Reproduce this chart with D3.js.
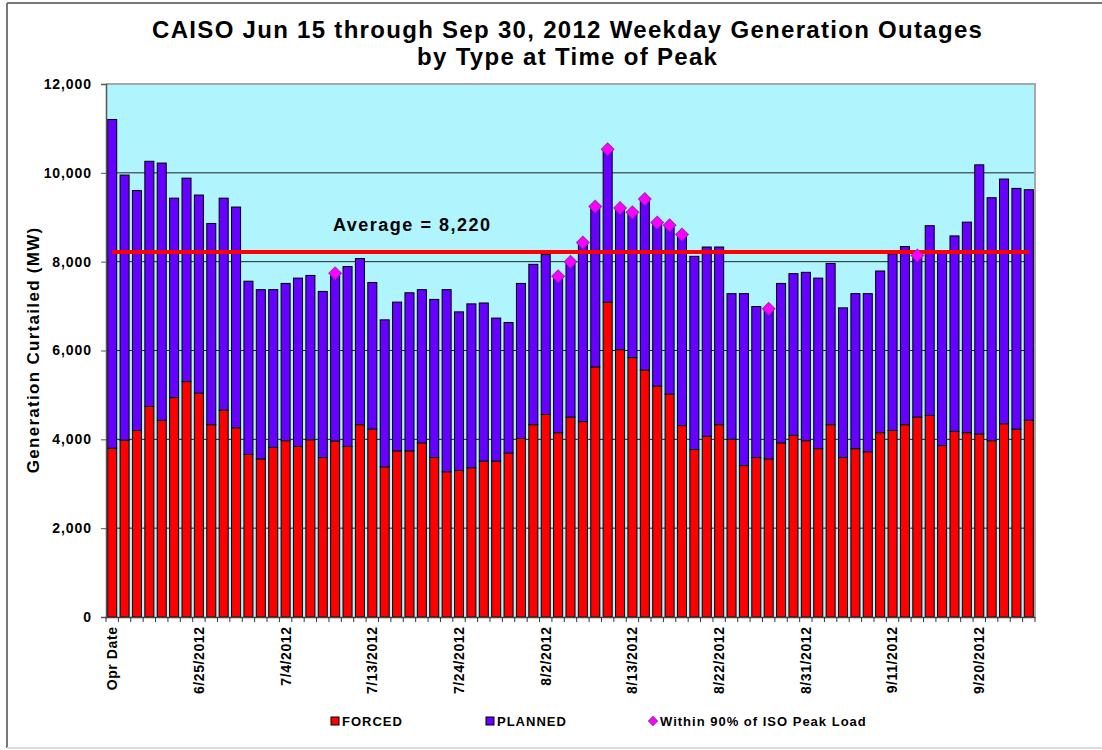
<!DOCTYPE html>
<html>
<head>
<meta charset="utf-8">
<script src="https://cdn.jsdelivr.net/npm/d3@7"></script>
<style>
    body { margin: 0; background: #fff; }
    text { font-family: Arial, "Liberation Sans", sans-serif; font-weight: bold; fill: #000; }
</style>
</head>
<body>
<script>
// categories as in the sheet: header row first, then weekdays
const categories = [
    "Opr Date",
    "6/15/2012", "6/18/2012", "6/19/2012", "6/20/2012", "6/21/2012", "6/22/2012",
    "6/25/2012", "6/26/2012", "6/27/2012", "6/28/2012", "6/29/2012",
    "7/2/2012", "7/3/2012", "7/4/2012", "7/5/2012", "7/6/2012",
    "7/9/2012", "7/10/2012", "7/11/2012", "7/12/2012", "7/13/2012",
    "7/16/2012", "7/17/2012", "7/18/2012", "7/19/2012", "7/20/2012",
    "7/23/2012", "7/24/2012", "7/25/2012", "7/26/2012", "7/27/2012",
    "7/30/2012", "7/31/2012", "8/1/2012", "8/2/2012", "8/3/2012",
    "8/6/2012", "8/7/2012", "8/8/2012", "8/9/2012", "8/10/2012",
    "8/13/2012", "8/14/2012", "8/15/2012", "8/16/2012", "8/17/2012",
    "8/20/2012", "8/21/2012", "8/22/2012", "8/23/2012", "8/24/2012",
    "8/27/2012", "8/28/2012", "8/29/2012", "8/30/2012", "8/31/2012",
    "9/3/2012", "9/4/2012", "9/5/2012", "9/6/2012", "9/7/2012",
    "9/10/2012", "9/11/2012", "9/12/2012", "9/13/2012", "9/14/2012",
    "9/17/2012", "9/18/2012", "9/19/2012", "9/20/2012", "9/21/2012",
    "9/24/2012", "9/25/2012", "9/26/2012"
];

// only every 7th category gets a label on the axis
const tickLabels = categories.filter((d, i) => i % 7 === 0);

const forced = [
    3800, 3980, 4200, 4740, 4430, 4940, 5300, 5040, 4330, 4660,
    4260, 3660, 3560, 3820, 3970, 3840, 3990, 3590, 3960, 3840,
    4330, 4230, 3380, 3740, 3740, 3920, 3590, 3270, 3300, 3360,
    3510, 3510, 3690, 4020, 4330, 4560, 4150, 4500, 4400, 5630,
    7090, 6020, 5840, 5560, 5200, 5020, 4310, 3770, 4070, 4330,
    4000, 3410, 3590, 3560, 3920, 4090, 3970, 3790, 4330, 3590,
    3790, 3720, 4150, 4200, 4330, 4500, 4540, 3860, 4180, 4150,
    4120, 3970, 4350, 4230, 4430
];

const planned = [
    7400, 5970, 5400, 5520, 5790, 4490, 4580, 4460, 4530, 4770,
    4970, 3900, 3810, 3550, 3540, 3790, 3700, 3740, 3780, 4050,
    3740, 3300, 3310, 3350, 3560, 3450, 3560, 4100, 3570, 3690,
    3560, 3220, 2940, 3490, 3610, 3600, 3520, 3500, 4030, 3610,
    3440, 3190, 3270, 3850, 3680, 3800, 4300, 4350, 4260, 4000,
    3280, 3870, 3400, 3380, 3590, 3640, 3790, 3840, 3630, 3370,
    3490, 3560, 3640, 3970, 4010, 3640, 4270, 4380, 4400, 4740,
    6060, 5470, 5510, 5420, 5190
];

// days within 90% of ISO peak load (marker sits on top of the bar)
const peakDays = [
    "7/10/2012", "8/3/2012", "8/6/2012", "8/7/2012", "8/8/2012", "8/9/2012",
    "8/10/2012", "8/13/2012", "8/14/2012", "8/15/2012", "8/16/2012", "8/17/2012",
    "8/28/2012", "9/13/2012"
];

const average = 8220;
const yTicks = [0, 2000, 4000, 6000, 8000, 10000, 12000];

const w = 1102;
const h = 750;
const margin = { top: 84, right: 67, bottom: 133, left: 106 };
const innerWidth = w - margin.left - margin.right;
const innerHeight = h - margin.top - margin.bottom;

const purple = '#6600ff';
const red = '#ff0000';
const magenta = '#ff00ff';

const data = categories.map((c, i) => ({
    cat: c,
    forced: forced[i],
    planned: planned[i],
    total: forced[i] + planned[i]
}));

// widen text a bit (the original font runs wider than Arial bold)
function spread(sel, px) {
    sel.each(function () {
        const len = this.getComputedTextLength();
        const n = this.textContent.length;
        if (n > 1) {
            d3.select(this)
                .attr('textLength', len + (n - 1) * px)
                .attr('lengthAdjust', 'spacing');
        }
    });
}

const svg = d3.select("body")
    .append("svg")
    .attr("width", w)
    .attr("height", h);

// outer frame
svg.append('line').attr('x1', 7).attr('x2', w).attr('y1', 3).attr('y2', 3)
    .attr('stroke', '#777').attr('stroke-width', 2);
svg.append('line').attr('x1', 7).attr('x2', 7).attr('y1', 3).attr('y2', 748)
    .attr('stroke', '#777').attr('stroke-width', 2);
svg.append('line').attr('x1', 7).attr('x2', w).attr('y1', 748).attr('y2', 748)
    .attr('stroke', '#ddd').attr('stroke-width', 2);

// title
svg.append('text')
    .attr('x', 567).attr('y', 38)
    .attr('text-anchor', 'middle')
    .style('font-size', '24px')
    .text('CAISO Jun 15 through Sep 30, 2012 Weekday Generation Outages')
    .call(spread, 1.3);

svg.append('text')
    .attr('x', 567).attr('y', 65)
    .attr('text-anchor', 'middle')
    .style('font-size', '24px')
    .text('by Type at Time of Peak')
    .call(spread, 1.3);

const xScale = d3.scaleBand()
    .domain(categories)
    .range([0, innerWidth])
    .paddingInner(0.27)
    .paddingOuter(0.135);

const yScale = d3.scaleLinear()
    .domain([0, 12000])
    .range([innerHeight, 0]);

const g = svg.append("g")
    .attr("transform", `translate(${margin.left},${margin.top})`);

// plot background
g.append('rect')
    .attr('width', innerWidth)
    .attr('height', innerHeight)
    .attr('fill', '#b0f4fe');

// grid
g.selectAll('.grid')
    .data(yTicks.filter(t => t > 0 && t < 12000))
    .enter()
    .append('line')
    .attr('class', 'grid')
    .attr('x1', 0).attr('x2', innerWidth)
    .attr('y1', d => yScale(d)).attr('y2', d => yScale(d))
    .attr('stroke', '#222')
    .attr('stroke-width', 1);

// top + right border of plot
g.append('path')
    .attr('d', `M0,0H${innerWidth}V${innerHeight}`)
    .attr('fill', 'none')
    .attr('stroke', '#a8a8a8')
    .attr('stroke-width', 2);

// stacked bars
g.selectAll('.forced')
    .data(data)
    .enter()
    .append('rect')
    .attr('class', 'forced')
    .attr('x', d => xScale(d.cat))
    .attr('width', xScale.bandwidth())
    .attr('y', d => yScale(d.forced))
    .attr('height', d => innerHeight - yScale(d.forced))
    .attr('fill', red)
    .attr('stroke', '#000')
    .attr('stroke-width', 1);

g.selectAll('.planned')
    .data(data)
    .enter()
    .append('rect')
    .attr('class', 'planned')
    .attr('x', d => xScale(d.cat))
    .attr('width', xScale.bandwidth())
    .attr('y', d => yScale(d.total))
    .attr('height', d => yScale(d.forced) - yScale(d.total))
    .attr('fill', purple)
    .attr('stroke', '#000')
    .attr('stroke-width', 1);

// average line
const xFirst = xScale(categories[0]) + xScale.bandwidth() / 2;
const xLast = xScale(categories[categories.length - 1]) + xScale.bandwidth() / 2;
g.append('line')
    .attr('x1', xFirst).attr('x2', xLast)
    .attr('y1', yScale(average)).attr('y2', yScale(average))
    .attr('stroke', red)
    .attr('stroke-width', 4);

g.append('text')
    .attr('x', xScale(categories[24]) + xScale.bandwidth() / 2 + 2)
    .attr('y', yScale(average) - 21)
    .attr('text-anchor', 'middle')
    .style('font-size', '18px')
    .text('Average = ' + d3.format(',')(average))
    .call(spread, 1.5);

// peak markers
const diamond = d3.symbol().type(d3.symbolSquare).size(80);
g.selectAll('.peak')
    .data(data.filter(d => peakDays.includes(d.cat)))
    .enter()
    .append('path')
    .attr('class', 'peak')
    .attr('d', diamond)
    .attr('transform', d => `translate(${xScale(d.cat) + xScale.bandwidth() / 2},${yScale(d.total)}) rotate(45)`)
    .attr('fill', magenta)
    .attr('stroke', '#a020c0')
    .attr('stroke-width', 1);

// y axis
const yAxis = d3.axisLeft(yScale)
    .tickValues(yTicks)
    .tickFormat(d3.format(','))
    .tickSize(5)
    .tickPadding(10);

const yAxisG = g.append('g').call(yAxis);
yAxisG.select('.domain').attr('stroke', '#555').attr('stroke-width', 1.5);
yAxisG.selectAll('.tick line').attr('stroke', '#555');
yAxisG.selectAll('.tick text')
    .style('font-size', '14px')
    .style('font-family', 'Arial, "Liberation Sans", sans-serif')
    .style('font-weight', 'bold')
    .attr('fill', '#000')
    .call(spread, 0.9);

// x axis: labels every 7th category, ticks at band edges
const xAxis = d3.axisBottom(xScale)
    .tickSize(0)
    .tickValues(tickLabels);

const xAxisG = g.append('g')
    .attr('transform', `translate(0, ${innerHeight})`)
    .call(xAxis);

xAxisG.select('.domain').attr('stroke', '#444').attr('stroke-width', 1.5);
xAxisG.selectAll('.tick text')
    .attr('transform', 'rotate(-90)')
    .attr('text-anchor', 'end')
    .attr('x', -10)
    .attr('y', 0)
    .attr('dy', '0.35em')
    .style('font-size', '14px')
    .style('font-family', 'Arial, "Liberation Sans", sans-serif')
    .style('font-weight', 'bold')
    .attr('fill', '#000')
    .call(spread, 0.6);

xAxisG.selectAll('.edge')
    .data(d3.range(categories.length + 1))
    .enter()
    .append('line')
    .attr('class', 'edge')
    .attr('x1', i => i * xScale.step())
    .attr('x2', i => i * xScale.step())
    .attr('y1', 0).attr('y2', 5)
    .attr('stroke', '#333');

// y axis label
svg.append('text')
    .attr('transform', `translate(39, ${margin.top + innerHeight / 2}) rotate(-90)`)
    .attr('text-anchor', 'middle')
    .style('font-size', '17px')
    .text('Generation Curtailed (MW)')
    .call(spread, 1.3);

// legend
const legend = svg.append('g').attr('transform', 'translate(0, 721)');

legend.append('rect')
    .attr('x', 331).attr('y', -4).attr('width', 8).attr('height', 8)
    .attr('fill', red).attr('stroke', '#000');
legend.append('text')
    .attr('x', 342).attr('y', 5)
    .style('font-size', '13px')
    .text('FORCED')
    .call(spread, 1);

legend.append('rect')
    .attr('x', 486).attr('y', -4).attr('width', 8).attr('height', 8)
    .attr('fill', purple).attr('stroke', '#000');
legend.append('text')
    .attr('x', 497).attr('y', 5)
    .style('font-size', '13px')
    .text('PLANNED')
    .call(spread, 1);

legend.append('path')
    .attr('d', d3.symbol().type(d3.symbolSquare).size(40))
    .attr('transform', 'translate(653, 0) rotate(45)')
    .attr('fill', magenta).attr('stroke', '#a020c0');
legend.append('text')
    .attr('x', 660).attr('y', 5)
    .style('font-size', '13px')
    .text('Within 90% of ISO Peak Load')
    .call(spread, 1);
</script>
</body>
</html>
